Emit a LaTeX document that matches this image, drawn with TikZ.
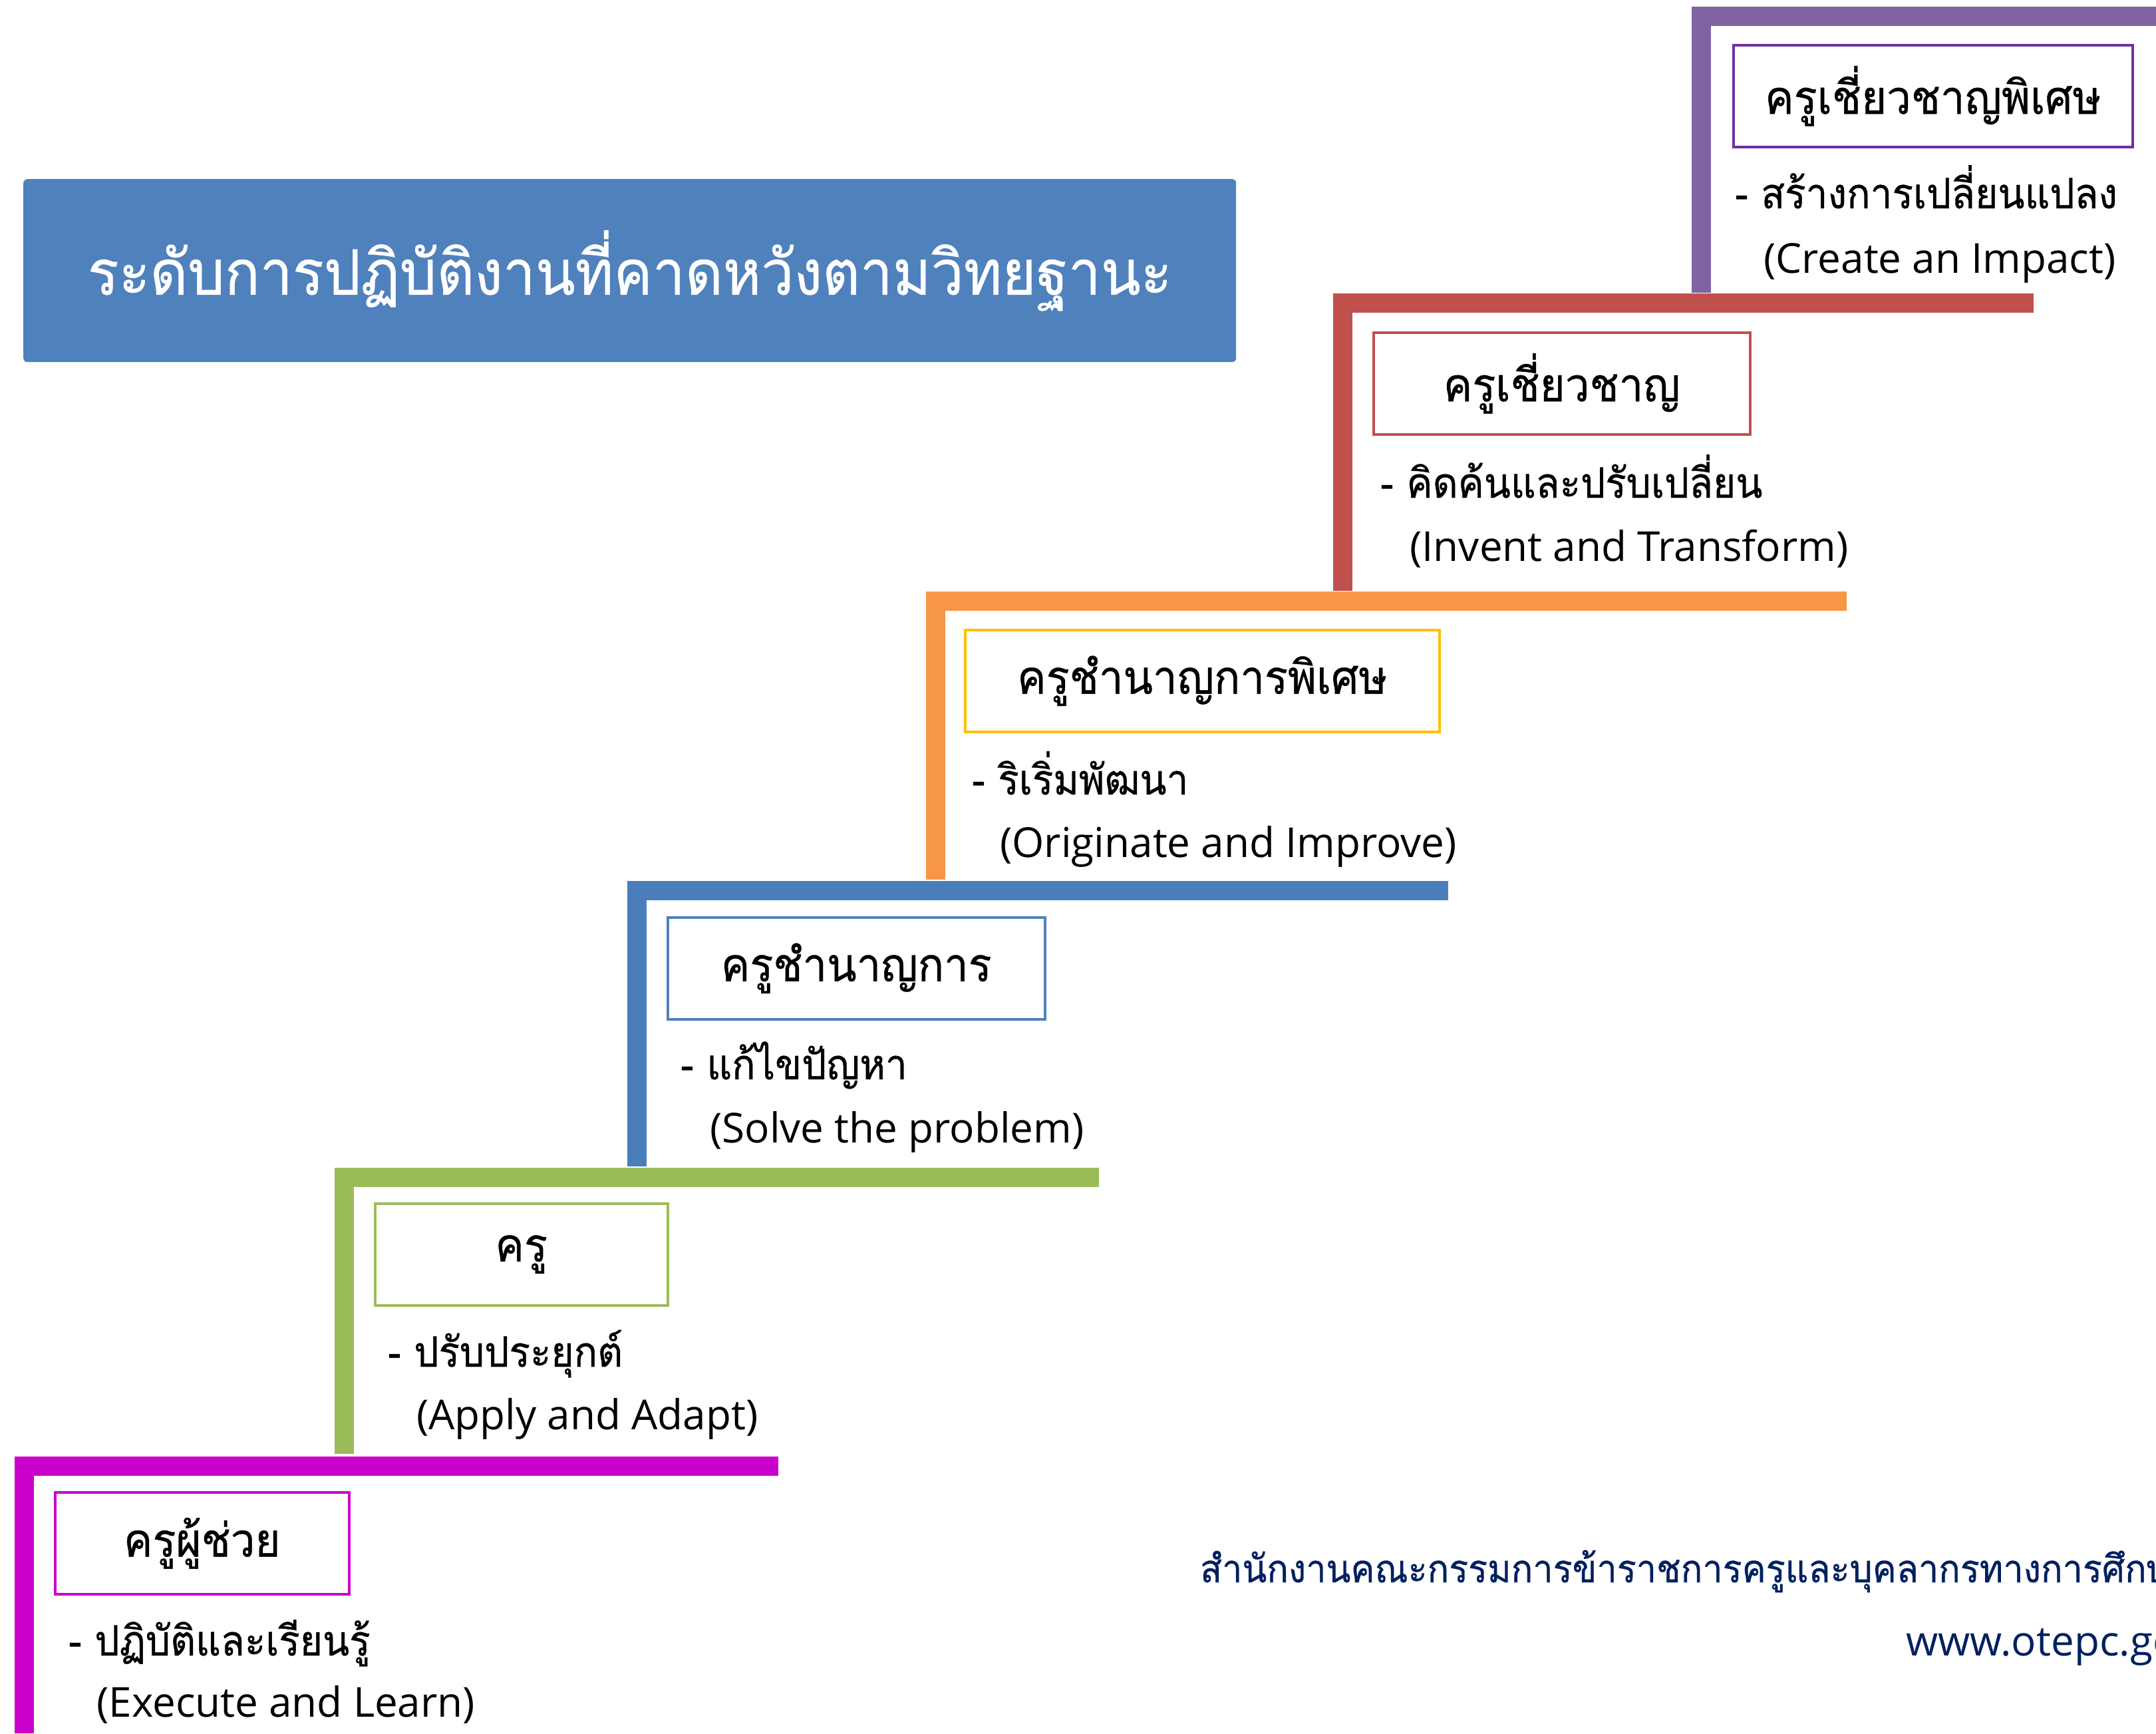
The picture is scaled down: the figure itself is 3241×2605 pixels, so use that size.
\documentclass[tikz,border=0pt]{standalone}
\usepackage{fontspec}
\newfontfamily\thai[Script=Thai, FakeStretch=0.93, FakeBold=0.6]{Loma}
\newfontfamily\lat{Open Sans}
\definecolor{cpurple}{HTML}{8064A2}
\definecolor{cpurplebox}{HTML}{7030A0}
\definecolor{cred}{HTML}{C0504D}
\definecolor{corange}{HTML}{F79646}
\definecolor{cgold}{HTML}{FFC000}
\definecolor{cblue}{HTML}{4A7EBB}
\definecolor{ctitle}{HTML}{4F81BD}
\definecolor{cgreen}{HTML}{9BBB59}
\definecolor{cmag}{HTML}{CC00CC}
\definecolor{cnavy}{HTML}{002060}
\newcommand{\thaidesc}{\thai\fontsize{63}{74}\selectfont}
\newcommand{\latdesc}{\lat\fontsize{62}{72}\selectfont}
\newcommand{\boxfont}{\thai\fontsize{70}{80}\selectfont}
\tikzset{
  bar/.style={line width=29, line join=miter, line cap=butt},
  lvlbox/.style={draw, line width=3.5, fill=white, minimum height=153, anchor=north west, inner sep=0, font=\boxfont},
  dtxt/.style={anchor=base west, inner sep=0, font=\thaidesc},
  ltxt/.style={anchor=base west, inner sep=0, font=\latdesc},
}
\begin{document}
\begin{tikzpicture}[x=1pt,y=-1pt]
\useasboundingbox (0,0) rectangle (3241,2605);
\clip (0,0) rectangle (3241,2605);
\fill[white] (0,0) rectangle (3241,2605);

% title
\node[fill=ctitle, rounded corners=6, minimum width=1823, minimum height=275, anchor=north west, inner sep=0, text=white, font=\thai\fontsize{94}{108}\selectfont] (title) at (35,269) {ระดับการปฏิบัติงานที่คาดหวังตามวิทยฐานะ};

% step coordinates
\coordinate (m1) at (36,2605);   \coordinate (m2) at (36,2203);  \coordinate (m3) at (1170,2203);
\coordinate (g1) at (517,2185);  \coordinate (g2) at (517,1769); \coordinate (g3) at (1652,1769);
\coordinate (u1) at (957,1753);  \coordinate (u2) at (957,1338); \coordinate (u3) at (2177,1338);
\coordinate (o1) at (1406,1322); \coordinate (o2) at (1406,903); \coordinate (o3) at (2776,903);
\coordinate (r1) at (2018,888);  \coordinate (r2) at (2018,455); \coordinate (r3) at (3057,455);
\coordinate (v1) at (2557,440);  \coordinate (v2) at (2557,24);  \coordinate (v3) at (3260,24);

\draw[bar, cmag] (m1) -- (m2) -- (m3);
\draw[bar, cgreen] (g1) -- (g2) -- (g3);
\draw[bar, cblue] (u1) -- (u2) -- (u3);
\draw[bar, corange] (o1) -- (o2) -- (o3);
\draw[bar, cred] (r1) -- (r2) -- (r3);
\draw[bar, cpurple] (v1) -- (v2) -- (v3);

% boxes
\node[lvlbox, draw=cpurplebox, minimum width=600] (b6) at (2604,66) {ครูเชี่ยวชาญพิเศษ};
\node[lvlbox, draw=cred, minimum width=566] (b5) at (2063,498) {ครูเชี่ยวชาญ};
\node[lvlbox, draw=cgold, minimum width=713] (b4) at (1449,945) {ครูชำนาญการพิเศษ};
\node[lvlbox, draw=ctitle, minimum width=567] (b3) at (1002,1377) {ครูชำนาญการ};
\node[lvlbox, draw=cgreen, minimum width=440] (b2) at (562,1807) {ครู};
\node[lvlbox, draw=cmag, minimum width=442] (b1) at (81,2241) {ครูผู้ช่วย};

% descriptions
\node[dtxt] (d6a) at (2608,313) {- สร้างการเปลี่ยนแปลง};
\node[ltxt] (d6b) at (2651,410) {(Create an Impact)};
\node[dtxt] (d5a) at (2075,748) {- คิดค้นและปรับเปลี่ยน};
\node[ltxt] (d5b) at (2119,843) {(Invent and Transform)};
\node[dtxt] (d4a) at (1461,1194) {- ริเริ่มพัฒนา};
\node[ltxt] (d4b) at (1503,1288) {(Originate and Improve)};
\node[dtxt] (d3a) at (1023,1622) {- แก้ไขปัญหา};
\node[ltxt] (d3b) at (1067,1717) {(Solve the problem)};
\node[dtxt] (d2a) at (583,2054) {- ปรับประยุกต์};
\node[ltxt] (d2b) at (626,2148) {(Apply and Adapt)};
\node[dtxt] (d1a) at (103,2488) {- ปฏิบัติและเรียนรู้};
\node[ltxt] (d1b) at (145,2580) {(Execute and Learn)};

% footer
\node[anchor=base west, inner sep=0, text=cnavy, font=\thai\fontsize{58}{70}\selectfont] (f1) at (1804,2378) {สำนักงานคณะกรรมการข้าราชการครูและบุคลากรทางการศึกษา};
\node[anchor=base west, inner sep=0, text=cnavy, font=\lat\fontsize{62}{72}\selectfont] (f2) at (2865,2488) {www.otepc.go.th};
\end{tikzpicture}
\end{document}
